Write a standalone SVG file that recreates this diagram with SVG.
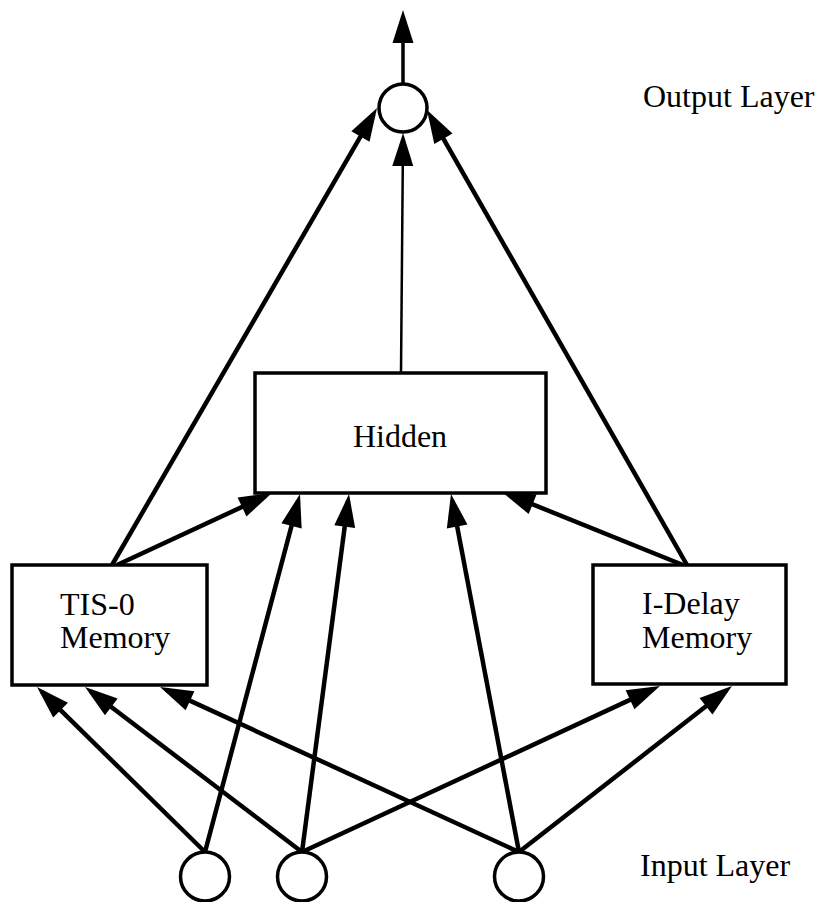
<svg xmlns="http://www.w3.org/2000/svg" width="817" height="902" viewBox="0 0 817 902">
  <style>
    .unit { fill: #fff; stroke: #000; stroke-width: 3.5; }
    .box { fill: #fff; stroke: #000; stroke-width: 3.5; }
    .label { font-family: "Liberation Serif", "Times New Roman", serif; font-size: 32px; fill: #000; }
    .link { fill: none; stroke: #000; stroke-width: 4.5; marker-end: url(#head); }
    .thin { stroke-width: 2.5; }
    .mid { stroke-width: 3.5; }
  </style>
  <defs>
    <marker id="head" markerUnits="userSpaceOnUse" markerWidth="33" markerHeight="21" refX="26" refY="10.5" orient="auto" overflow="visible">
      <path d="M0,0 L33,10.5 L0,21 Z" fill="#000"/>
    </marker>
  </defs>
  <rect width="817" height="902" fill="#fff"/>

  <g id="connectors">
    <!-- network output -->
    <line class="link mid" x1="403" y1="84" x2="403" y2="17"/>
    <!-- into output unit -->
    <line class="link thin" x1="401" y1="373" x2="403" y2="140"/>
    <line class="link" x1="112" y1="565" x2="373.5" y2="114.1"/>
    <line class="link" x1="687" y1="565" x2="430.5" y2="116.1"/>
    <!-- memories into hidden -->
    <line class="link" x1="117" y1="565" x2="265.6" y2="496"/>
    <line class="link" x1="683" y1="565" x2="508.5" y2="494.6"/>
    <!-- inputs into hidden -->
    <line class="link" x1="205" y1="852" x2="298.2" y2="500.8"/>
    <line class="link" x1="302" y1="852" x2="348.1" y2="500.9"/>
    <line class="link" x1="519" y1="852" x2="452.3" y2="500.9"/>
    <!-- inputs into TIS-0 memory -->
    <line class="link" x1="205" y1="852" x2="42" y2="691.9"/>
    <line class="link" x1="302" y1="852" x2="90.6" y2="691.2"/>
    <line class="link" x1="519" y1="852" x2="166.4" y2="689.9"/>
    <!-- inputs into I-Delay memory -->
    <line class="link" x1="302" y1="852" x2="653.6" y2="688.9"/>
    <line class="link" x1="519" y1="852" x2="726.5" y2="690.3"/>
  </g>

  <g id="output-unit">
    <circle class="unit" cx="403" cy="108" r="24"/>
  </g>
  <g id="output-label">
    <text class="label" x="643" y="107" font-family="Liberation Serif, serif">Output Layer</text>
  </g>

  <g id="hidden">
    <rect class="box" x="255" y="373" width="291" height="120"/>
    <text class="label" x="400" y="447" text-anchor="middle" font-family="Liberation Serif, serif">Hidden</text>
  </g>

  <g id="tis0-memory">
    <rect class="box" x="12" y="565" width="195" height="120"/>
    <text class="label" x="60" y="615" font-family="Liberation Serif, serif">TIS-0</text>
    <text class="label" x="60" y="648" font-family="Liberation Serif, serif">Memory</text>
  </g>

  <g id="idelay-memory">
    <rect class="box" x="593" y="565" width="193" height="119"/>
    <text class="label" x="642" y="614" font-family="Liberation Serif, serif">I-Delay</text>
    <text class="label" x="642" y="648" font-family="Liberation Serif, serif">Memory</text>
  </g>

  <g id="input-1">
    <circle class="unit" cx="205" cy="876.5" r="24.5"/>
  </g>
  <g id="input-2">
    <circle class="unit" cx="302" cy="876.5" r="24.5"/>
  </g>
  <g id="input-3">
    <circle class="unit" cx="519" cy="876.5" r="24.5"/>
  </g>
  <g id="input-label">
    <text class="label" x="640" y="876" font-family="Liberation Serif, serif">Input Layer</text>
  </g>
</svg>
